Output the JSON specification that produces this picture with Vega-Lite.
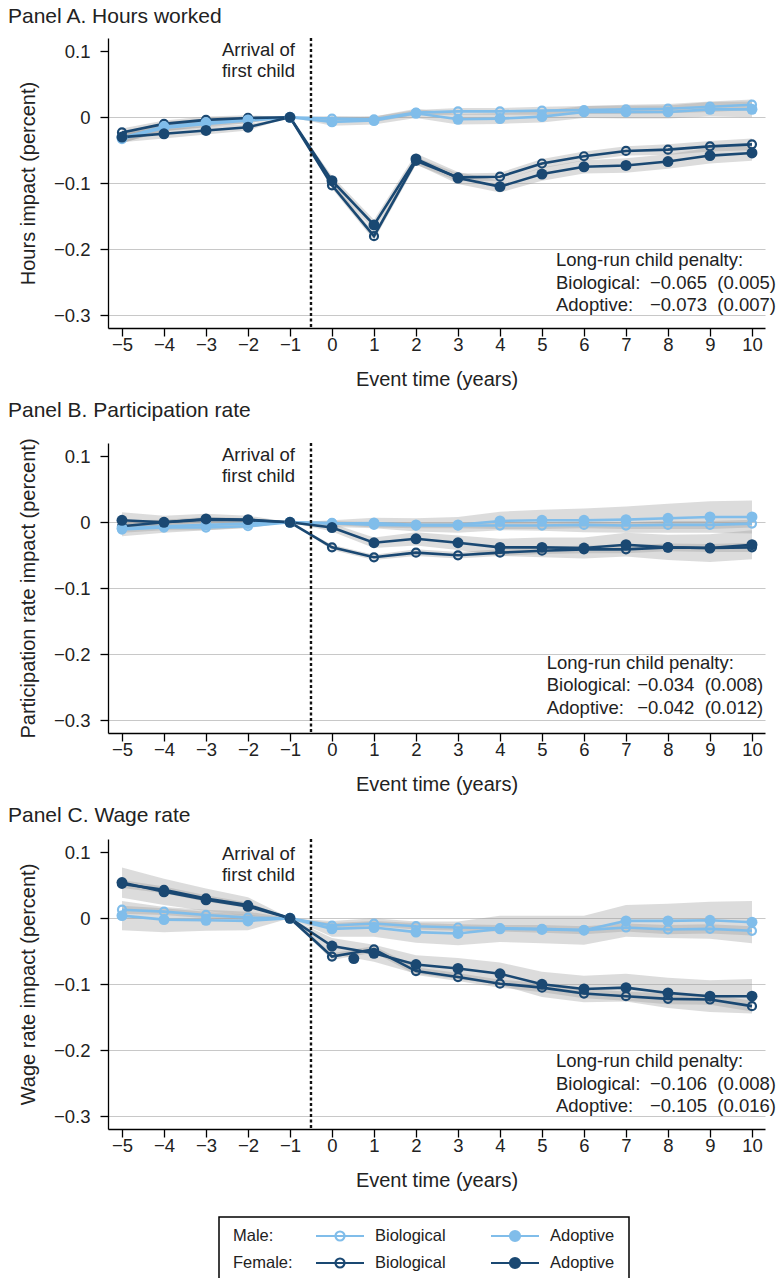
{
  "$schema": "https://vega.github.io/schema/vega-lite/v6.json",
  "background": "white",
  "padding": {"left": 8, "top": 5, "right": 0, "bottom": 0},
  "spacing": 10,
  "resolve": {"scale": {"x": "independent", "y": "independent"}},
  "config": {
    "font": "Liberation Sans",
    "view": {"stroke": null},
    "title": {"fontSize": 21, "fontWeight": "normal", "anchor": "start", "frame": "group", "color": "#222"},
    "axis": {"labelFontSize": 18.5, "titleFontSize": 20, "titleFontWeight": "normal", "labelColor": "#222", "titleColor": "#222", "domainColor": "#000", "tickColor": "#000", "domainWidth": 1.3, "tickWidth": 1.3, "tickSize": 8},
    "text": {"font": "Liberation Sans", "color": "#222"}
  },
  "datasets": {
    "main": [
      {"p":"A","s":"MB","t":-5,"v":-0.033,"e":0.006},{"p":"A","s":"MB","t":-4,"v":-0.016,"e":0.005},{"p":"A","s":"MB","t":-3,"v":-0.010,"e":0.005},{"p":"A","s":"MB","t":-2,"v":-0.005,"e":0.004},{"p":"A","s":"MB","t":-1,"v":0,"e":0},{"p":"A","s":"MB","t":0,"v":-0.002,"e":0.004},{"p":"A","s":"MB","t":1,"v":-0.003,"e":0.004},{"p":"A","s":"MB","t":2,"v":0.007,"e":0.004},{"p":"A","s":"MB","t":3,"v":0.009,"e":0.005},{"p":"A","s":"MB","t":4,"v":0.009,"e":0.005},{"p":"A","s":"MB","t":5,"v":0.010,"e":0.006},{"p":"A","s":"MB","t":6,"v":0.011,"e":0.006},{"p":"A","s":"MB","t":7,"v":0.012,"e":0.007},{"p":"A","s":"MB","t":8,"v":0.013,"e":0.007},{"p":"A","s":"MB","t":9,"v":0.016,"e":0.008},{"p":"A","s":"MB","t":10,"v":0.019,"e":0.008},
      {"p":"A","s":"MA","t":-5,"v":-0.031,"e":0.008},{"p":"A","s":"MA","t":-4,"v":-0.014,"e":0.007},{"p":"A","s":"MA","t":-3,"v":-0.008,"e":0.006},{"p":"A","s":"MA","t":-2,"v":-0.004,"e":0.005},{"p":"A","s":"MA","t":-1,"v":0,"e":0},{"p":"A","s":"MA","t":0,"v":-0.007,"e":0.006},{"p":"A","s":"MA","t":1,"v":-0.005,"e":0.006},{"p":"A","s":"MA","t":2,"v":0.006,"e":0.007},{"p":"A","s":"MA","t":3,"v":-0.003,"e":0.008},{"p":"A","s":"MA","t":4,"v":-0.002,"e":0.008},{"p":"A","s":"MA","t":5,"v":0.001,"e":0.009},{"p":"A","s":"MA","t":6,"v":0.008,"e":0.009},{"p":"A","s":"MA","t":7,"v":0.008,"e":0.010},{"p":"A","s":"MA","t":8,"v":0.008,"e":0.010},{"p":"A","s":"MA","t":9,"v":0.012,"e":0.011},{"p":"A","s":"MA","t":10,"v":0.012,"e":0.012},
      {"p":"A","s":"FB","t":-5,"v":-0.023,"e":0.006},{"p":"A","s":"FB","t":-4,"v":-0.010,"e":0.005},{"p":"A","s":"FB","t":-3,"v":-0.004,"e":0.005},{"p":"A","s":"FB","t":-2,"v":-0.001,"e":0.004},{"p":"A","s":"FB","t":-1,"v":0,"e":0},{"p":"A","s":"FB","t":0,"v":-0.103,"e":0.005},{"p":"A","s":"FB","t":1,"v":-0.180,"e":0.006},{"p":"A","s":"FB","t":2,"v":-0.066,"e":0.006},{"p":"A","s":"FB","t":3,"v":-0.091,"e":0.006},{"p":"A","s":"FB","t":4,"v":-0.090,"e":0.006},{"p":"A","s":"FB","t":5,"v":-0.070,"e":0.007},{"p":"A","s":"FB","t":6,"v":-0.059,"e":0.007},{"p":"A","s":"FB","t":7,"v":-0.051,"e":0.007},{"p":"A","s":"FB","t":8,"v":-0.049,"e":0.008},{"p":"A","s":"FB","t":9,"v":-0.044,"e":0.008},{"p":"A","s":"FB","t":10,"v":-0.041,"e":0.009},
      {"p":"A","s":"FA","t":-5,"v":-0.030,"e":0.008},{"p":"A","s":"FA","t":-4,"v":-0.025,"e":0.007},{"p":"A","s":"FA","t":-3,"v":-0.020,"e":0.006},{"p":"A","s":"FA","t":-2,"v":-0.015,"e":0.005},{"p":"A","s":"FA","t":-1,"v":0,"e":0},{"p":"A","s":"FA","t":0,"v":-0.096,"e":0.007},{"p":"A","s":"FA","t":1,"v":-0.163,"e":0.008},{"p":"A","s":"FA","t":2,"v":-0.063,"e":0.008},{"p":"A","s":"FA","t":3,"v":-0.092,"e":0.009},{"p":"A","s":"FA","t":4,"v":-0.105,"e":0.009},{"p":"A","s":"FA","t":5,"v":-0.086,"e":0.010},{"p":"A","s":"FA","t":6,"v":-0.075,"e":0.010},{"p":"A","s":"FA","t":7,"v":-0.073,"e":0.011},{"p":"A","s":"FA","t":8,"v":-0.067,"e":0.011},{"p":"A","s":"FA","t":9,"v":-0.058,"e":0.012},{"p":"A","s":"FA","t":10,"v":-0.054,"e":0.012},

      {"p":"B","s":"MB","t":-5,"v":-0.011,"e":0.005},{"p":"B","s":"MB","t":-4,"v":-0.008,"e":0.004},{"p":"B","s":"MB","t":-3,"v":-0.008,"e":0.004},{"p":"B","s":"MB","t":-2,"v":-0.006,"e":0.003},{"p":"B","s":"MB","t":-1,"v":0,"e":0},{"p":"B","s":"MB","t":0,"v":-0.001,"e":0.003},{"p":"B","s":"MB","t":1,"v":-0.004,"e":0.004},{"p":"B","s":"MB","t":2,"v":-0.005,"e":0.004},{"p":"B","s":"MB","t":3,"v":-0.005,"e":0.004},{"p":"B","s":"MB","t":4,"v":-0.005,"e":0.005},{"p":"B","s":"MB","t":5,"v":-0.005,"e":0.005},{"p":"B","s":"MB","t":6,"v":-0.004,"e":0.005},{"p":"B","s":"MB","t":7,"v":-0.005,"e":0.005},{"p":"B","s":"MB","t":8,"v":-0.004,"e":0.006},{"p":"B","s":"MB","t":9,"v":-0.004,"e":0.006},{"p":"B","s":"MB","t":10,"v":-0.002,"e":0.006},
      {"p":"B","s":"MA","t":-5,"v":-0.009,"e":0.012},{"p":"B","s":"MA","t":-4,"v":-0.006,"e":0.010},{"p":"B","s":"MA","t":-3,"v":-0.004,"e":0.008},{"p":"B","s":"MA","t":-2,"v":-0.002,"e":0.006},{"p":"B","s":"MA","t":-1,"v":0,"e":0},{"p":"B","s":"MA","t":0,"v":-0.002,"e":0.005},{"p":"B","s":"MA","t":1,"v":-0.001,"e":0.008},{"p":"B","s":"MA","t":2,"v":-0.004,"e":0.010},{"p":"B","s":"MA","t":3,"v":-0.004,"e":0.012},{"p":"B","s":"MA","t":4,"v":0.002,"e":0.014},{"p":"B","s":"MA","t":5,"v":0.003,"e":0.016},{"p":"B","s":"MA","t":6,"v":0.003,"e":0.018},{"p":"B","s":"MA","t":7,"v":0.004,"e":0.020},{"p":"B","s":"MA","t":8,"v":0.006,"e":0.022},{"p":"B","s":"MA","t":9,"v":0.008,"e":0.024},{"p":"B","s":"MA","t":10,"v":0.008,"e":0.025},
      {"p":"B","s":"FB","t":-5,"v":-0.006,"e":0.005},{"p":"B","s":"FB","t":-4,"v":0.000,"e":0.004},{"p":"B","s":"FB","t":-3,"v":0.004,"e":0.004},{"p":"B","s":"FB","t":-2,"v":0.003,"e":0.003},{"p":"B","s":"FB","t":-1,"v":0,"e":0},{"p":"B","s":"FB","t":0,"v":-0.038,"e":0.004},{"p":"B","s":"FB","t":1,"v":-0.053,"e":0.004},{"p":"B","s":"FB","t":2,"v":-0.046,"e":0.005},{"p":"B","s":"FB","t":3,"v":-0.050,"e":0.005},{"p":"B","s":"FB","t":4,"v":-0.046,"e":0.005},{"p":"B","s":"FB","t":5,"v":-0.043,"e":0.005},{"p":"B","s":"FB","t":6,"v":-0.041,"e":0.006},{"p":"B","s":"FB","t":7,"v":-0.041,"e":0.006},{"p":"B","s":"FB","t":8,"v":-0.038,"e":0.006},{"p":"B","s":"FB","t":9,"v":-0.039,"e":0.006},{"p":"B","s":"FB","t":10,"v":-0.038,"e":0.007},
      {"p":"B","s":"FA","t":-5,"v":0.003,"e":0.012},{"p":"B","s":"FA","t":-4,"v":0.000,"e":0.010},{"p":"B","s":"FA","t":-3,"v":0.005,"e":0.008},{"p":"B","s":"FA","t":-2,"v":0.004,"e":0.006},{"p":"B","s":"FA","t":-1,"v":0,"e":0},{"p":"B","s":"FA","t":0,"v":-0.008,"e":0.006},{"p":"B","s":"FA","t":1,"v":-0.031,"e":0.008},{"p":"B","s":"FA","t":2,"v":-0.025,"e":0.010},{"p":"B","s":"FA","t":3,"v":-0.031,"e":0.011},{"p":"B","s":"FA","t":4,"v":-0.038,"e":0.013},{"p":"B","s":"FA","t":5,"v":-0.038,"e":0.015},{"p":"B","s":"FA","t":6,"v":-0.039,"e":0.016},{"p":"B","s":"FA","t":7,"v":-0.034,"e":0.018},{"p":"B","s":"FA","t":8,"v":-0.038,"e":0.019},{"p":"B","s":"FA","t":9,"v":-0.039,"e":0.021},{"p":"B","s":"FA","t":10,"v":-0.034,"e":0.022},

      {"p":"C","s":"MB","t":-5,"v":0.013,"e":0.006},{"p":"C","s":"MB","t":-4,"v":0.010,"e":0.005},{"p":"C","s":"MB","t":-3,"v":0.005,"e":0.005},{"p":"C","s":"MB","t":-2,"v":0.001,"e":0.004},{"p":"C","s":"MB","t":-1,"v":0,"e":0},{"p":"C","s":"MB","t":0,"v":-0.011,"e":0.004},{"p":"C","s":"MB","t":1,"v":-0.008,"e":0.004},{"p":"C","s":"MB","t":2,"v":-0.012,"e":0.005},{"p":"C","s":"MB","t":3,"v":-0.014,"e":0.005},{"p":"C","s":"MB","t":4,"v":-0.015,"e":0.005},{"p":"C","s":"MB","t":5,"v":-0.016,"e":0.006},{"p":"C","s":"MB","t":6,"v":-0.018,"e":0.006},{"p":"C","s":"MB","t":7,"v":-0.014,"e":0.006},{"p":"C","s":"MB","t":8,"v":-0.017,"e":0.007},{"p":"C","s":"MB","t":9,"v":-0.016,"e":0.007},{"p":"C","s":"MB","t":10,"v":-0.019,"e":0.007},
      {"p":"C","s":"MA","t":-5,"v":0.004,"e":0.022},{"p":"C","s":"MA","t":-4,"v":-0.002,"e":0.019},{"p":"C","s":"MA","t":-3,"v":-0.003,"e":0.016},{"p":"C","s":"MA","t":-2,"v":-0.004,"e":0.014},{"p":"C","s":"MA","t":-1,"v":0,"e":0},{"p":"C","s":"MA","t":0,"v":-0.016,"e":0.012},{"p":"C","s":"MA","t":1,"v":-0.014,"e":0.014},{"p":"C","s":"MA","t":2,"v":-0.021,"e":0.016},{"p":"C","s":"MA","t":3,"v":-0.023,"e":0.018},{"p":"C","s":"MA","t":4,"v":-0.016,"e":0.020},{"p":"C","s":"MA","t":5,"v":-0.017,"e":0.021},{"p":"C","s":"MA","t":6,"v":-0.018,"e":0.022},{"p":"C","s":"MA","t":7,"v":-0.004,"e":0.024},{"p":"C","s":"MA","t":8,"v":-0.004,"e":0.026},{"p":"C","s":"MA","t":9,"v":-0.003,"e":0.028},{"p":"C","s":"MA","t":10,"v":-0.006,"e":0.032},
      {"p":"C","s":"FB","t":-5,"v":0.052,"e":0.006},{"p":"C","s":"FB","t":-4,"v":0.043,"e":0.005},{"p":"C","s":"FB","t":-3,"v":0.030,"e":0.005},{"p":"C","s":"FB","t":-2,"v":0.020,"e":0.004},{"p":"C","s":"FB","t":-1,"v":0,"e":0},{"p":"C","s":"FB","t":0,"v":-0.058,"e":0.005},{"p":"C","s":"FB","t":1,"v":-0.047,"e":0.005},{"p":"C","s":"FB","t":2,"v":-0.080,"e":0.006},{"p":"C","s":"FB","t":3,"v":-0.089,"e":0.006},{"p":"C","s":"FB","t":4,"v":-0.099,"e":0.006},{"p":"C","s":"FB","t":5,"v":-0.105,"e":0.007},{"p":"C","s":"FB","t":6,"v":-0.114,"e":0.007},{"p":"C","s":"FB","t":7,"v":-0.118,"e":0.007},{"p":"C","s":"FB","t":8,"v":-0.122,"e":0.008},{"p":"C","s":"FB","t":9,"v":-0.123,"e":0.008},{"p":"C","s":"FB","t":10,"v":-0.133,"e":0.008},
      {"p":"C","s":"FA","t":-5,"v":0.054,"e":0.023},{"p":"C","s":"FA","t":-4,"v":0.040,"e":0.020},{"p":"C","s":"FA","t":-3,"v":0.028,"e":0.017},{"p":"C","s":"FA","t":-2,"v":0.018,"e":0.014},{"p":"C","s":"FA","t":-1,"v":0,"e":0},{"p":"C","s":"FA","t":0,"v":-0.042,"e":0.012},{"p":"C","s":"FA","t":1,"v":-0.053,"e":0.013},{"p":"C","s":"FA","t":2,"v":-0.070,"e":0.014},{"p":"C","s":"FA","t":3,"v":-0.076,"e":0.016},{"p":"C","s":"FA","t":4,"v":-0.084,"e":0.017},{"p":"C","s":"FA","t":5,"v":-0.100,"e":0.019},{"p":"C","s":"FA","t":6,"v":-0.107,"e":0.020},{"p":"C","s":"FA","t":7,"v":-0.105,"e":0.021},{"p":"C","s":"FA","t":8,"v":-0.113,"e":0.023},{"p":"C","s":"FA","t":9,"v":-0.118,"e":0.024},{"p":"C","s":"FA","t":10,"v":-0.118,"e":0.026}
    ]
  },
  "vconcat": [
    {
      "width": 657, "height": 290,
      "title": {"text": "Panel A. Hours worked", "dx": -100, "offset": 10},
      "layer": [
        {
          "data": {"name": "main"},
          "transform": [{"filter": "datum.p == 'A'"}],
          "encoding": {
            "x": {"field": "t", "type": "quantitative", "scale": {"domain": [-5.333, 10.31], "nice": false, "zero": false}, "axis": {"values": [-5,-4,-3,-2,-1,0,1,2,3,4,5,6,7,8,9,10], "format": "d", "title": "Event time (years)", "grid": false, "labelPadding": -1, "titlePadding": 16}},
            "y": {"field": "v", "type": "quantitative", "scale": {"domain": [-0.319, 0.12], "nice": false, "zero": false}, "axis": {"values": [0.1, 0, -0.1, -0.2, -0.3], "format": "~g", "title": "Hours impact (percent)", "grid": true, "gridColor": {"condition": {"test": "datum.value > 0.05", "value": "transparent"}, "value": "#c8c8c8"}, "gridWidth": 1.2, "labelPadding": 10, "titlePadding": 15}}
          },
          "layer": [
            {"mark": {"type": "errorband", "color": "#9a9a9a", "opacity": 0.35}, "encoding": {"yError": {"field": "e"}, "detail": {"field": "s"}}},
            {"mark": {"type": "line", "strokeWidth": 2.6}, "encoding": {"color": {"field": "s", "type": "nominal", "scale": {"domain": ["MB","MA","FB","FA"], "range": ["#80bdea","#80bdea","#1a4872","#1a4872"]}, "legend": null}}},
            {"transform": [{"filter": "datum.s == 'MB' || datum.s == 'FB'"}], "mark": {"type": "point", "shape": "circle", "filled": false, "size": 64, "strokeWidth": 2.2, "opacity": 1}, "encoding": {"color": {"field": "s", "type": "nominal", "scale": {"domain": ["MB","MA","FB","FA"], "range": ["#80bdea","#80bdea","#1a4872","#1a4872"]}, "legend": null}}},
            {"transform": [{"filter": "datum.s == 'MA' || datum.s == 'FA'"}], "mark": {"type": "point", "shape": "circle", "filled": true, "size": 120, "opacity": 1}, "encoding": {"color": {"field": "s", "type": "nominal", "scale": {"domain": ["MB","MA","FB","FA"], "range": ["#80bdea","#80bdea","#1a4872","#1a4872"]}, "legend": null}}}
          ]
        },
        {
          "data": {"values": [{}]},
          "layer": [
            {"mark": {"type": "rule", "strokeDash": [3, 2.5], "strokeWidth": 2.4, "color": "#111"}, "encoding": {"x": {"datum": -0.5, "type": "quantitative"}}},
            {"mark": {"type": "text", "align": "right", "baseline": "alphabetic", "fontSize": 18.5, "lineHeight": 20.7}, "encoding": {"x": {"datum": -0.881, "type": "quantitative"}, "y": {"datum": 0.0924, "type": "quantitative"}, "text": {"value": ["Arrival of", "first child"]}}},
            {"mark": {"type": "text", "align": "left", "baseline": "alphabetic", "fontSize": 18.5, "lineHeight": 22.5}, "encoding": {"x": {"datum": 5.333, "type": "quantitative"}, "y": {"datum": -0.2258, "type": "quantitative"}, "text": {"value": ["Long-run child penalty:", "Biological:", "Adoptive:"]}}},
            {"mark": {"type": "text", "align": "left", "baseline": "alphabetic", "fontSize": 18.5, "lineHeight": 22.5}, "encoding": {"x": {"datum": 7.571, "type": "quantitative"}, "y": {"datum": -0.2599, "type": "quantitative"}, "text": {"value": ["−0.065\u00a0\u00a0(0.005)", "−0.073\u00a0\u00a0(0.007)"]}}}
          ]
        }
      ]
    },
    {
      "width": 657, "height": 290,
      "title": {"text": "Panel B. Participation rate", "dx": -100, "offset": 16.5},
      "layer": [
        {
          "data": {"name": "main"},
          "transform": [{"filter": "datum.p == 'B'"}],
          "encoding": {
            "x": {"field": "t", "type": "quantitative", "scale": {"domain": [-5.333, 10.31], "nice": false, "zero": false}, "axis": {"values": [-5,-4,-3,-2,-1,0,1,2,3,4,5,6,7,8,9,10], "format": "d", "title": "Event time (years)", "grid": false, "labelPadding": -1, "titlePadding": 16}},
            "y": {"field": "v", "type": "quantitative", "scale": {"domain": [-0.319, 0.12], "nice": false, "zero": false}, "axis": {"values": [0.1, 0, -0.1, -0.2, -0.3], "format": "~g", "title": "Participation rate impact (percent)", "grid": true, "gridColor": {"condition": {"test": "datum.value > 0.05", "value": "transparent"}, "value": "#c8c8c8"}, "gridWidth": 1.2, "labelPadding": 10, "titlePadding": 15}}
          },
          "layer": [
            {"mark": {"type": "errorband", "color": "#9a9a9a", "opacity": 0.35}, "encoding": {"yError": {"field": "e"}, "detail": {"field": "s"}}},
            {"mark": {"type": "line", "strokeWidth": 2.6}, "encoding": {"color": {"field": "s", "type": "nominal", "scale": {"domain": ["MB","MA","FB","FA"], "range": ["#80bdea","#80bdea","#1a4872","#1a4872"]}, "legend": null}}},
            {"transform": [{"filter": "datum.s == 'MB' || datum.s == 'FB'"}], "mark": {"type": "point", "shape": "circle", "filled": false, "size": 64, "strokeWidth": 2.2, "opacity": 1}, "encoding": {"color": {"field": "s", "type": "nominal", "scale": {"domain": ["MB","MA","FB","FA"], "range": ["#80bdea","#80bdea","#1a4872","#1a4872"]}, "legend": null}}},
            {"transform": [{"filter": "datum.s == 'MA' || datum.s == 'FA'"}], "mark": {"type": "point", "shape": "circle", "filled": true, "size": 120, "opacity": 1}, "encoding": {"color": {"field": "s", "type": "nominal", "scale": {"domain": ["MB","MA","FB","FA"], "range": ["#80bdea","#80bdea","#1a4872","#1a4872"]}, "legend": null}}}
          ]
        },
        {
          "data": {"values": [{}]},
          "layer": [
            {"mark": {"type": "rule", "strokeDash": [3, 2.5], "strokeWidth": 2.4, "color": "#111"}, "encoding": {"x": {"datum": -0.5, "type": "quantitative"}}},
            {"mark": {"type": "text", "align": "right", "baseline": "alphabetic", "fontSize": 18.5, "lineHeight": 20.7}, "encoding": {"x": {"datum": -0.881, "type": "quantitative"}, "y": {"datum": 0.0924, "type": "quantitative"}, "text": {"value": ["Arrival of", "first child"]}}},
            {"mark": {"type": "text", "align": "left", "baseline": "alphabetic", "fontSize": 18.5, "lineHeight": 22.5}, "encoding": {"x": {"datum": 5.112, "type": "quantitative"}, "y": {"datum": -0.2217, "type": "quantitative"}, "text": {"value": ["Long-run child penalty:", "Biological:", "Adoptive:"]}}},
            {"mark": {"type": "text", "align": "left", "baseline": "alphabetic", "fontSize": 18.5, "lineHeight": 22.5}, "encoding": {"x": {"datum": 7.269, "type": "quantitative"}, "y": {"datum": -0.2558, "type": "quantitative"}, "text": {"value": ["−0.034\u00a0\u00a0(0.008)", "−0.042\u00a0\u00a0(0.012)"]}}}
          ]
        }
      ]
    },
    {
      "width": 657, "height": 290,
      "title": {"text": "Panel C. Wage rate", "dx": -100, "offset": 11.5},
      "layer": [
        {
          "data": {"name": "main"},
          "transform": [{"filter": "datum.p == 'C'"}],
          "encoding": {
            "x": {"field": "t", "type": "quantitative", "scale": {"domain": [-5.333, 10.31], "nice": false, "zero": false}, "axis": {"values": [-5,-4,-3,-2,-1,0,1,2,3,4,5,6,7,8,9,10], "format": "d", "title": "Event time (years)", "grid": false, "labelPadding": -1, "titlePadding": 16}},
            "y": {"field": "v", "type": "quantitative", "scale": {"domain": [-0.319, 0.12], "nice": false, "zero": false}, "axis": {"values": [0.1, 0, -0.1, -0.2, -0.3], "format": "~g", "title": "Wage rate impact (percent)", "grid": true, "gridColor": {"condition": {"test": "datum.value > 0.05", "value": "transparent"}, "value": "#c8c8c8"}, "gridWidth": 1.2, "labelPadding": 10, "titlePadding": 15}}
          },
          "layer": [
            {"mark": {"type": "errorband", "color": "#9a9a9a", "opacity": 0.35}, "encoding": {"yError": {"field": "e"}, "detail": {"field": "s"}}},
            {"mark": {"type": "line", "strokeWidth": 2.6}, "encoding": {"color": {"field": "s", "type": "nominal", "scale": {"domain": ["MB","MA","FB","FA"], "range": ["#80bdea","#80bdea","#1a4872","#1a4872"]}, "legend": null}}},
            {"transform": [{"filter": "datum.s == 'MB' || datum.s == 'FB'"}], "mark": {"type": "point", "shape": "circle", "filled": false, "size": 64, "strokeWidth": 2.2, "opacity": 1}, "encoding": {"color": {"field": "s", "type": "nominal", "scale": {"domain": ["MB","MA","FB","FA"], "range": ["#80bdea","#80bdea","#1a4872","#1a4872"]}, "legend": null}}},
            {"transform": [{"filter": "datum.s == 'MA' || datum.s == 'FA'"}], "mark": {"type": "point", "shape": "circle", "filled": true, "size": 120, "opacity": 1}, "encoding": {"color": {"field": "s", "type": "nominal", "scale": {"domain": ["MB","MA","FB","FA"], "range": ["#80bdea","#80bdea","#1a4872","#1a4872"]}, "legend": null}}}
          ]
        },
        {
          "data": {"values": [{"t": 0.52, "v": -0.061}]},
          "mark": {"type": "point", "shape": "circle", "filled": true, "size": 120, "opacity": 1, "color": "#1a4872"},
          "encoding": {"x": {"field": "t", "type": "quantitative"}, "y": {"field": "v", "type": "quantitative"}}
        },
        {
          "data": {"values": [{}]},
          "layer": [
            {"mark": {"type": "rule", "strokeDash": [3, 2.5], "strokeWidth": 2.4, "color": "#111"}, "encoding": {"x": {"datum": -0.5, "type": "quantitative"}}},
            {"mark": {"type": "text", "align": "right", "baseline": "alphabetic", "fontSize": 18.5, "lineHeight": 20.7}, "encoding": {"x": {"datum": -0.881, "type": "quantitative"}, "y": {"datum": 0.0879, "type": "quantitative"}, "text": {"value": ["Arrival of", "first child"]}}},
            {"mark": {"type": "text", "align": "left", "baseline": "alphabetic", "fontSize": 18.5, "lineHeight": 22.5}, "encoding": {"x": {"datum": 5.333, "type": "quantitative"}, "y": {"datum": -0.2253, "type": "quantitative"}, "text": {"value": ["Long-run child penalty:", "Biological:", "Adoptive:"]}}},
            {"mark": {"type": "text", "align": "left", "baseline": "alphabetic", "fontSize": 18.5, "lineHeight": 22.5}, "encoding": {"x": {"datum": 7.571, "type": "quantitative"}, "y": {"datum": -0.2594, "type": "quantitative"}, "text": {"value": ["−0.106\u00a0\u00a0(0.008)", "−0.105\u00a0\u00a0(0.016)"]}}}
          ]
        }
      ]
    },
    {
      "spacing": 20,
      "resolve": {"scale": {"x": "independent", "y": "independent"}},
      "hconcat": [
        {"width": 90, "height": 65, "data": {"values": [{}]}, "mark": {"type": "point", "opacity": 0}, "encoding": {}},
        {
          "width": 410, "height": 65,
          "view": {"stroke": "#000", "strokeWidth": 1.5},
          "title": {"text": " ", "fontSize": 10, "offset": 5},
          "data": {"values": [
            {"sex": "Male", "sexlab": "Male:", "type": "Biological", "s": "MB"},
            {"sex": "Male", "sexlab": "Male:", "type": "Adoptive", "s": "MA"},
            {"sex": "Female", "sexlab": "Female:", "type": "Biological", "s": "FB"},
            {"sex": "Female", "sexlab": "Female:", "type": "Adoptive", "s": "FA"}
          ]},
          "encoding": {
            "x": {"field": "type", "type": "nominal", "scale": {"type": "point", "domain": ["Biological", "Adoptive"], "range": [121, 296], "padding": 0}, "axis": null},
            "y": {"field": "sex", "type": "nominal", "scale": {"type": "point", "domain": ["Male", "Female"], "range": [19, 46], "padding": 0}, "axis": null}
          },
          "layer": [
            {"transform": [{"filter": "datum.type == 'Biological'"}], "mark": {"type": "point", "shape": "M-4.8,0L4.8,0M0.9,0A0.9,0.9 0 1,1 -0.9,0A0.9,0.9 0 1,1 0.9,0", "size": 100, "strokeWidth": 2.2, "filled": false, "opacity": 1}, "encoding": {"stroke": {"field": "s", "type": "nominal", "scale": {"domain": ["MB","MA","FB","FA"], "range": ["#80bdea","#80bdea","#1a4872","#1a4872"]}, "legend": null}}},
            {"transform": [{"filter": "datum.type == 'Adoptive'"}], "mark": {"type": "point", "shape": "M-4.8,0L4.8,0M1,0A1,1 0 1,1 -1,0A1,1 0 1,1 1,0Z", "size": 100, "strokeWidth": 2.2, "filled": true, "opacity": 1}, "encoding": {"stroke": {"field": "s", "type": "nominal", "scale": {"domain": ["MB","MA","FB","FA"], "range": ["#80bdea","#80bdea","#1a4872","#1a4872"]}, "legend": null}, "fill": {"field": "s", "type": "nominal", "scale": {"domain": ["MB","MA","FB","FA"], "range": ["#80bdea","#80bdea","#1a4872","#1a4872"]}, "legend": null}}},
            {"mark": {"type": "text", "align": "left", "baseline": "middle", "dx": 35, "fontSize": 16.5}, "encoding": {"text": {"field": "type"}}},
            {"transform": [{"filter": "datum.type == 'Biological'"}], "mark": {"type": "text", "align": "left", "baseline": "middle", "dx": -107, "fontSize": 16.5}, "encoding": {"text": {"field": "sexlab"}}}
          ]
        }
      ]
    }
  ]
}
